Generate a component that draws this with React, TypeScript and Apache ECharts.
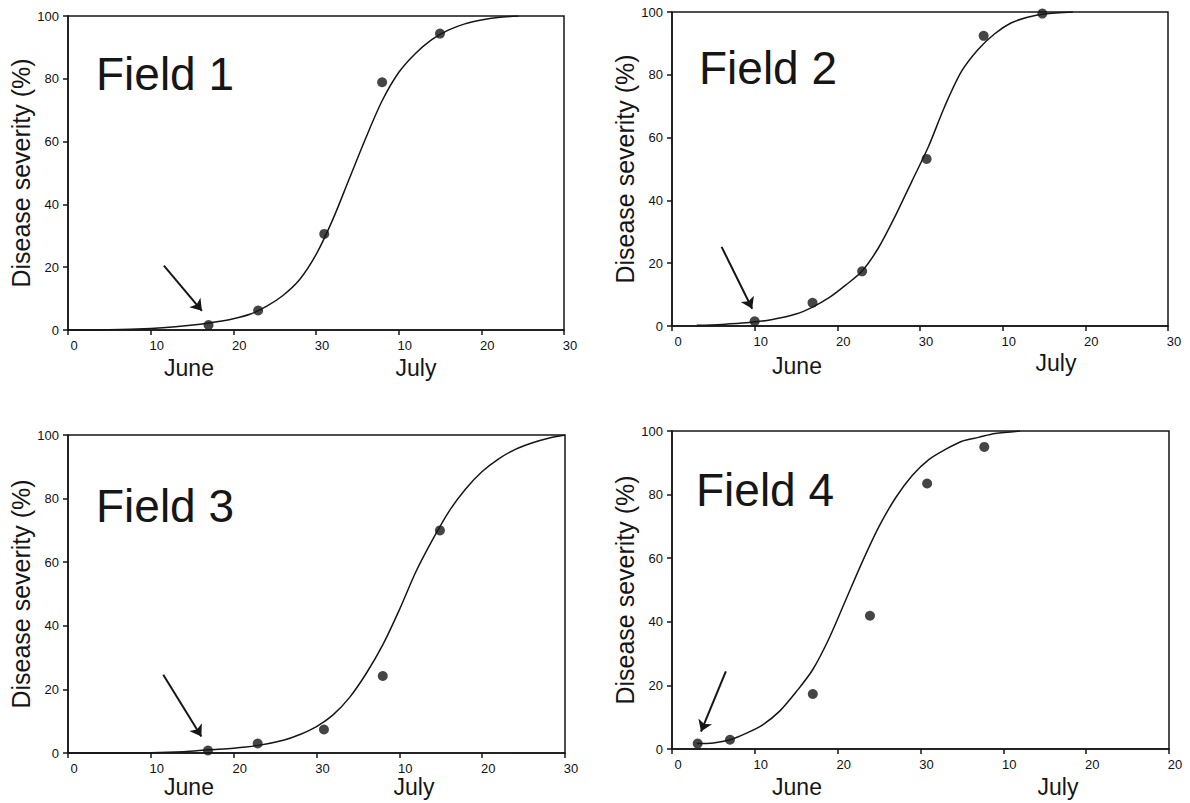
import React, { useEffect, useRef } from 'react';
import * as echarts from 'echarts';

// X tick labels (days: 0..30 = June, 40..60 = July 10..30)
const xTickLabels1 = ['0', '10', '20', '30', '10', '20', '30'];
const xTickLabels2 = ['0', '10', '20', '30', '10', '20', '30'];
const xTickLabels3 = ['0', '10', '20', '30', '10', '20', '30'];
const xTickLabels4 = ['0', '10', '20', '30', '10', '20', '20'];

const fieldNames = ['Field 1', 'Field 2', 'Field 3', 'Field 4'];
const yTitle = 'Disease severity (%)';
const monthNames = ['June', 'July'];

// Observed disease severity [day, %]
const field1Points = [[17, 1.6], [23, 6.2], [31, 30.6], [38, 78.9], [45, 94.4]];
const field2Points = [[10, 1.5], [17, 7.4], [23, 17.4], [30.8, 53.2], [37.7, 92.4], [44.8, 99.5]];
const field3Points = [[16.9, 0.8], [22.9, 3.0], [30.9, 7.4], [38, 24.2], [44.9, 70]];
const field4Points = [[3.1, 1.7], [7, 2.9], [17, 17.3], [23.9, 41.9], [30.8, 83.5], [37.7, 95]];

// Fitted curves [day, %]
const field1Curve = [[0, 0], [5, 0.1], [10, 0.5], [13, 1], [16, 1.8], [18, 2.6], [20, 3.6], [22, 5], [24, 7.5], [26, 11], [28, 16], [30, 24], [32, 35], [34, 48], [36, 61], [38, 73], [40, 82], [42, 88], [44, 92.5], [46, 95.5], [48, 97.5], [50, 98.7], [52, 99.5], [54.5, 100]];
const field2Curve = [[3, 0.2], [6, 0.5], [9, 1], [12, 2], [15, 3.8], [17, 6], [19, 9], [21, 13], [23, 17.5], [25, 25], [27, 35], [29, 46], [31, 57], [33, 70], [35, 81], [37, 88], [39, 93], [41, 96.5], [43, 98.3], [45, 99.4], [48.5, 100]];
const field3Curve = [[0, 0], [10, 0.1], [14, 0.4], [17, 1], [20, 1.5], [23, 2.4], [26, 4], [28, 5.8], [30, 8.3], [32, 12], [34, 17.5], [36, 25], [38, 34], [40, 45], [42, 57], [44, 67], [46, 76], [48, 83], [50, 88.5], [52, 92.5], [54, 95.5], [56, 97.5], [58, 99], [60, 100]];
const field4Curve = [[3, 1.7], [5, 1.9], [7, 2.9], [9, 5], [11, 7.7], [13, 11.9], [15, 18], [17, 25], [19, 35], [21, 47], [23, 59], [25, 70], [27, 79], [29, 86], [31, 91], [33, 94.2], [35, 96.8], [37, 98], [39, 99.2], [42, 100]];

// Arrows [from, to] in [day, %]
const field1Arrow = [[11.6, 20.5], [16.2, 6.1]];
const field2Arrow = [[6.0, 25.2], [9.7, 5.5]];
const field3Arrow = [[11.5, 24.6], [16.1, 5.2]];
const field4Arrow = [[6.5, 24.4], [3.5, 5.5]];

const FONT = '"Liberation Sans", Arial, Helvetica, sans-serif';
const INK = '#161616';

const panels = [
  { grid: { left: 68, top: 16, width: 496, height: 314 }, ticks: xTickLabels1, pts: field1Points, curve: field1Curve, arrow: field1Arrow, name: fieldNames[0], title: [96, 74], june: [189, 368], july: [416, 368] },
  { grid: { left: 672, top: 12, width: 496, height: 314 }, ticks: xTickLabels2, pts: field2Points, curve: field2Curve, arrow: field2Arrow, name: fieldNames[1], title: [699, 68], june: [797, 366], july: [1056, 363] },
  { grid: { left: 68, top: 435, width: 497, height: 318 }, ticks: xTickLabels3, pts: field3Points, curve: field3Curve, arrow: field3Arrow, name: fieldNames[2], title: [96, 506], june: [189, 787], july: [414, 787] },
  { grid: { left: 672, top: 431, width: 497, height: 318 }, ticks: xTickLabels4, pts: field4Points, curve: field4Curve, arrow: field4Arrow, name: fieldNames[3], title: [696, 490], june: [797, 787], july: [1058, 787] },
];

export default function App() {
  const ref = useRef<HTMLDivElement>(null);
  useEffect(() => {
    if (!ref.current) return;
    const chart = echarts.init(ref.current, null, { renderer: 'svg' });
    const grid: any[] = [];
    const xAxis: any[] = [];
    const yAxis: any[] = [];
    const series: any[] = [];
    const graphic: any[] = [];
    panels.forEach((p, i) => {
      grid.push({ ...p.grid, show: true, borderColor: INK, borderWidth: 1.5, backgroundColor: 'transparent' });
      xAxis.push({
        gridIndex: i, type: 'value', min: 0, max: 60, interval: 10,
        axisLine: { show: true, onZero: false, lineStyle: { color: INK, width: 1.5 } },
        axisTick: { show: true, length: 5, lineStyle: { color: INK, width: 1.5 } },
        splitLine: { show: false },
        axisLabel: {
          color: '#111', fontSize: 13, fontFamily: FONT, margin: 9, padding: [0, 0, 0, 12],
          formatter: (v: number) => p.ticks[Math.round(v / 10)] ?? '',
        },
      });
      yAxis.push({
        gridIndex: i, type: 'value', min: 0, max: 100, interval: 20,
        axisLine: { show: true, lineStyle: { color: INK, width: 1.5 } },
        axisTick: { show: true, length: 5, lineStyle: { color: INK, width: 1.5 } },
        splitLine: { show: false },
        axisLabel: { color: '#111', fontSize: 13, fontFamily: FONT, margin: 9 },
        name: yTitle, nameLocation: 'middle', nameGap: 31, nameRotate: 90,
        nameTextStyle: { color: INK, fontSize: 25, fontFamily: FONT },
      });
      series.push({
        type: 'line', xAxisIndex: i, yAxisIndex: i, data: p.curve, smooth: 0.3,
        showSymbol: false, symbol: 'none', lineStyle: { color: INK, width: 1.5 }, silent: true,
      });
      series.push({
        type: 'scatter', xAxisIndex: i, yAxisIndex: i, data: p.pts, symbolSize: 10,
        itemStyle: { color: INK }, silent: true, z: 5,
        markLine: {
          silent: true, symbol: ['none', 'arrow'], symbolSize: 11,
          label: { show: false },
          lineStyle: { color: INK, width: 2, type: 'solid' },
          emphasis: { disabled: true },
          data: [[{ coord: p.arrow[0] }, { coord: p.arrow[1] }]],
        },
      });
      graphic.push({
        type: 'text', x: p.title[0], y: p.title[1],
        style: { text: p.name, fontSize: 46, fontFamily: FONT, fill: INK, textVerticalAlign: 'middle', textAlign: 'left' },
      });
      graphic.push({
        type: 'text', x: p.june[0], y: p.june[1],
        style: { text: monthNames[0], fontSize: 23, fontFamily: FONT, fill: INK, textVerticalAlign: 'middle', textAlign: 'center' },
      });
      graphic.push({
        type: 'text', x: p.july[0], y: p.july[1],
        style: { text: monthNames[1], fontSize: 23, fontFamily: FONT, fill: INK, textVerticalAlign: 'middle', textAlign: 'center' },
      });
    });
    chart.setOption({ animation: false, backgroundColor: '#fff', grid, xAxis, yAxis, series, graphic });
    return () => chart.dispose();
  }, []);
  return <div ref={ref} style={{ position: 'absolute', left: 0, top: 0, width: 1190, height: 803 }} />;
}
